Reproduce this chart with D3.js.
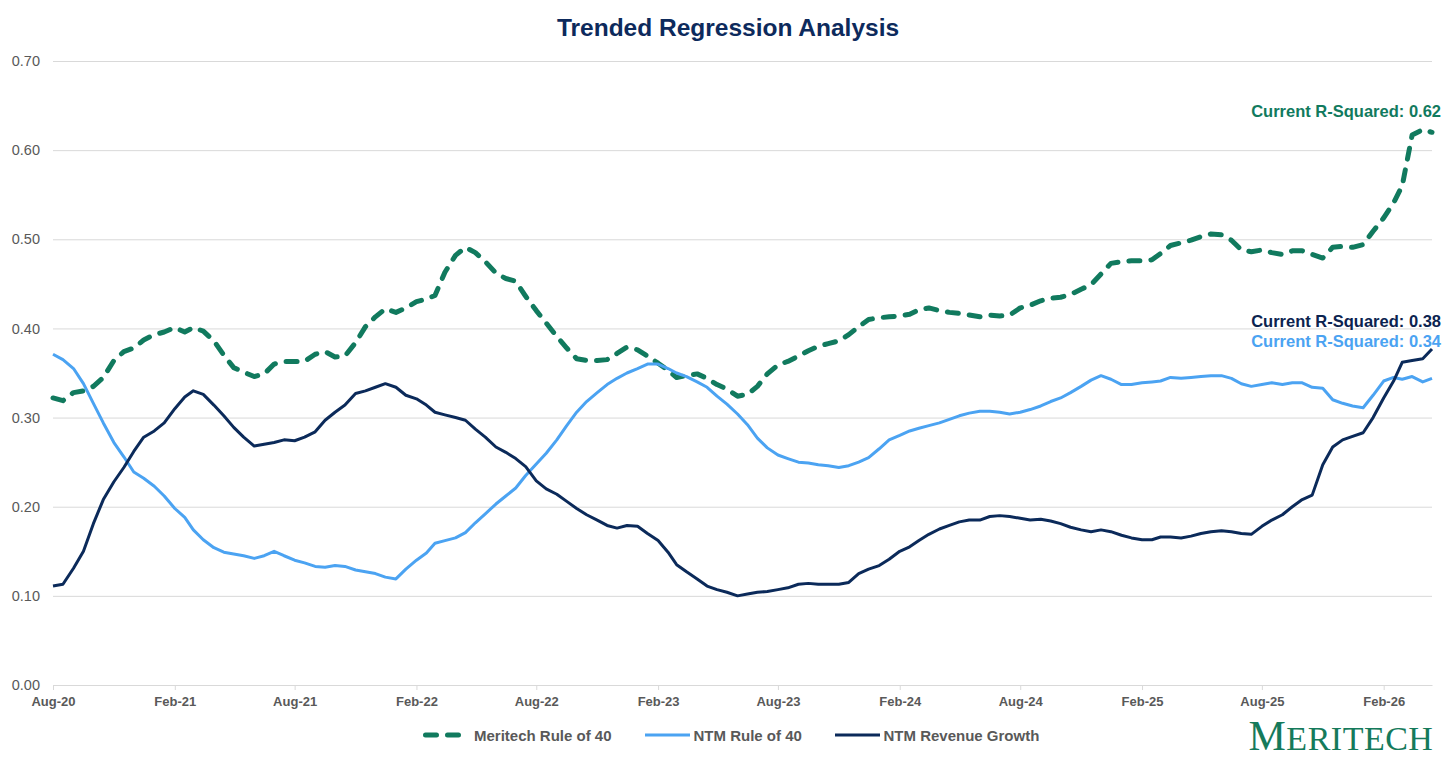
<!DOCTYPE html>
<html>
<head>
<meta charset="utf-8">
<script src="https://cdn.jsdelivr.net/npm/d3@7"></script>
<style>
  body { margin: 0; background: #fff; }
  text { font-family: Arial, "Liberation Sans", sans-serif; }
</style>
</head>
<body>
<script>
var dates = [
  "2020-08-01","2020-08-16","2020-09-01","2020-09-16","2020-10-01","2020-10-16","2020-11-01","2020-11-16","2020-12-01","2020-12-16",
  "2021-01-01","2021-01-16","2021-02-01","2021-02-16","2021-03-01","2021-03-16","2021-04-01","2021-04-16","2021-05-01","2021-05-16","2021-06-01","2021-06-16",
  "2021-07-01","2021-07-16","2021-08-01","2021-08-16","2021-09-01","2021-09-16","2021-10-01","2021-10-16","2021-11-01","2021-11-16","2021-12-01","2021-12-16",
  "2022-01-01","2022-01-16","2022-02-01","2022-02-16","2022-03-01","2022-03-16","2022-04-01","2022-04-16","2022-05-01","2022-05-16","2022-06-01","2022-06-16",
  "2022-07-01","2022-07-16","2022-08-01","2022-08-16","2022-09-01","2022-09-16","2022-10-01","2022-10-16","2022-11-01","2022-11-16","2022-12-01","2022-12-16",
  "2023-01-01","2023-01-16","2023-02-01","2023-02-16","2023-03-01","2023-03-16","2023-04-01","2023-04-16","2023-05-01","2023-05-16","2023-06-01","2023-06-16",
  "2023-07-01","2023-07-16","2023-08-01","2023-08-16","2023-09-01","2023-09-16","2023-10-01","2023-10-16","2023-11-01","2023-11-16","2023-12-01","2023-12-16",
  "2024-01-01","2024-01-16","2024-02-01","2024-02-16","2024-03-01","2024-03-16","2024-04-01","2024-04-16","2024-05-01","2024-05-16","2024-06-01","2024-06-16",
  "2024-07-01","2024-07-16","2024-08-01","2024-08-16","2024-09-01","2024-09-16","2024-10-01","2024-10-16","2024-11-01","2024-11-16","2024-12-01","2024-12-16",
  "2025-01-01","2025-01-16","2025-02-01","2025-02-16","2025-03-01","2025-03-16","2025-04-01","2025-04-16","2025-05-01","2025-05-16","2025-06-01","2025-06-16",
  "2025-07-01","2025-07-16","2025-08-01","2025-08-16","2025-09-01","2025-09-16","2025-10-01","2025-10-16","2025-11-01","2025-11-16","2025-12-01","2025-12-16",
  "2026-01-01","2026-01-16","2026-02-01","2026-02-16","2026-03-01","2026-03-16","2026-04-01","2026-04-15"
];

var meritechRule40 = [
  0.322,0.319,0.328,0.330,0.335,0.345,0.364,0.374,0.378,0.387,
  0.393,0.396,0.401,0.396,0.401,0.397,0.386,0.370,0.356,0.351,
  0.346,0.349,0.360,0.363,0.363,0.363,0.371,0.374,0.368,0.369,
  0.384,0.402,0.413,0.422,0.418,0.423,0.430,0.433,0.437,0.463,
  0.482,0.491,0.485,0.475,0.462,0.456,0.453,0.436,0.420,0.406,
  0.391,0.378,0.366,0.364,0.364,0.365,0.372,0.379,0.376,0.369,
  0.361,0.353,0.345,0.347,0.349,0.344,0.337,0.332,0.324,0.326,
  0.335,0.349,0.359,0.363,0.369,0.375,0.380,0.383,0.386,0.393,
  0.402,0.410,0.412,0.413,0.414,0.416,0.421,0.423,0.420,0.418,
  0.417,0.415,0.413,0.415,0.414,0.415,0.423,0.426,0.431,0.434,
  0.435,0.438,0.444,0.449,0.461,0.473,0.475,0.476,0.476,0.477,
  0.484,0.493,0.496,0.499,0.503,0.506,0.505,0.499,0.488,0.486,
  0.488,0.485,0.483,0.487,0.487,0.483,0.479,0.491,0.492,0.491,
  0.494,0.509,0.524,0.541,0.560,0.617,0.623,0.620
];

var ntmRule40 = [
  0.371,0.365,0.355,0.338,0.316,0.294,0.272,0.256,0.239,0.232,
  0.223,0.212,0.198,0.188,0.174,0.163,0.154,0.149,0.147,0.145,
  0.142,0.145,0.150,0.145,0.140,0.137,0.133,0.132,0.134,0.133,
  0.129,0.127,0.125,0.121,0.119,0.130,0.140,0.148,0.159,0.162,
  0.165,0.171,0.182,0.192,0.203,0.212,0.221,0.235,0.248,0.260,
  0.275,0.291,0.306,0.318,0.328,0.337,0.344,0.350,0.355,0.360,
  0.360,0.355,0.350,0.346,0.340,0.334,0.324,0.315,0.304,0.292,
  0.277,0.266,0.258,0.254,0.250,0.249,0.247,0.246,0.244,0.246,
  0.250,0.255,0.265,0.275,0.280,0.285,0.288,0.291,0.294,0.298,
  0.302,0.305,0.307,0.307,0.306,0.304,0.306,0.309,0.313,0.318,
  0.322,0.328,0.335,0.342,0.347,0.343,0.337,0.337,0.339,0.340,
  0.341,0.345,0.344,0.345,0.346,0.347,0.347,0.344,0.338,0.335,
  0.337,0.339,0.337,0.339,0.339,0.334,0.333,0.320,0.316,0.313,
  0.311,0.325,0.341,0.345,0.343,0.346,0.340,0.344
];

var ntmRevenueGrowth = [
  0.111,0.113,0.131,0.150,0.181,0.208,0.228,0.244,0.262,0.278,
  0.285,0.294,0.310,0.323,0.330,0.326,0.314,0.302,0.289,0.278,
  0.268,0.270,0.272,0.275,0.274,0.278,0.284,0.297,0.306,0.314,
  0.327,0.330,0.334,0.338,0.334,0.325,0.321,0.314,0.306,0.303,
  0.300,0.297,0.287,0.278,0.267,0.261,0.254,0.245,0.229,0.220,
  0.214,0.206,0.198,0.191,0.185,0.179,0.176,0.179,0.178,0.170,
  0.162,0.149,0.135,0.127,0.119,0.111,0.107,0.104,0.100,0.102,
  0.104,0.105,0.107,0.109,0.113,0.114,0.113,0.113,0.113,0.115,
  0.125,0.130,0.134,0.141,0.150,0.155,0.162,0.169,0.175,0.179,
  0.183,0.185,0.185,0.189,0.190,0.189,0.187,0.185,0.186,0.184,
  0.181,0.177,0.174,0.172,0.174,0.172,0.168,0.165,0.163,0.163,
  0.166,0.166,0.165,0.167,0.170,0.172,0.173,0.172,0.170,0.169,
  0.178,0.185,0.191,0.200,0.208,0.213,0.247,0.267,0.275,0.279,
  0.283,0.300,0.322,0.341,0.362,0.364,0.366,0.377
];

var yTicks = [0, 0.1, 0.2, 0.3, 0.4, 0.5, 0.6, 0.7];
var xTickDates = ["2020-08-01","2021-02-01","2021-08-01","2022-02-01","2022-08-01","2023-02-01",
                  "2023-08-01","2024-02-01","2024-08-01","2025-02-01","2025-08-01","2026-02-01"];

var seriesNames = ["Meritech Rule of 40", "NTM Rule of 40", "NTM Revenue Growth"];
var currentRSquared = ["0.62", "0.34", "0.38"];

var chart = {
  "width": 1456,
  "height": 759,
  "left": 53,
  "right": 1432,
  "top": 61,
  "bottom": 685
};

var green = "#117a5e",
    lightBlue = "#4ba3f2",
    navy = "#0b2a5a",
    grey = "#595959",
    gridGrey = "#d9d9d9";

var parse = d3.timeParse("%Y-%m-%d");
var parsedDates = dates.map(parse);

var x = d3.scaleTime()
          .domain([parsedDates[0], parsedDates[parsedDates.length - 1]])
          .range([chart.left, chart.right]);

var y = d3.scaleLinear()
          .domain([0, 0.7])
          .range([chart.bottom, chart.top]);

var svg = d3.select("body")
            .append("svg")
            .attr("width", chart.width)
            .attr("height", chart.height);

svg.append("rect")
   .attr("width", chart.width)
   .attr("height", chart.height)
   .attr("fill", "#fff");

svg.append("text")
   .attr("x", 728)
   .attr("y", 36)
   .attr("text-anchor", "middle")
   .attr("font-size", 24.5)
   .attr("font-weight", "bold")
   .attr("fill", "#0d2a5c")
   .text("Trended Regression Analysis");

// gridlines + y labels
var yAxis = d3.axisLeft(y)
              .tickValues(yTicks)
              .tickFormat(d3.format(".2f"))
              .tickSize(-(chart.right - chart.left))
              .tickPadding(13);

var yg = svg.append("g")
            .attr("transform", "translate(" + chart.left + ",0)")
            .call(yAxis);
yg.select(".domain").remove();
yg.selectAll("line").attr("stroke", gridGrey).attr("stroke-width", 1);
yg.selectAll("text")
  .attr("fill", grey)
  .attr("font-size", 14.5)
  .style("font-family", "Arial, 'Liberation Sans', sans-serif");

// x axis
var xAxis = d3.axisBottom(x)
              .tickValues(xTickDates.map(parse))
              .tickFormat(d3.timeFormat("%b-%y"))
              .tickSize(5)
              .tickSizeOuter(0)
              .tickPadding(7);

var xg = svg.append("g")
            .attr("transform", "translate(0," + chart.bottom + ")")
            .call(xAxis);
xg.select(".domain").attr("stroke", gridGrey);
xg.selectAll("line").attr("stroke", gridGrey);
xg.selectAll("text")
  .attr("fill", grey)
  .attr("font-size", 13)
  .attr("font-weight", "bold")
  .style("font-family", "Arial, 'Liberation Sans', sans-serif");

var line = d3.line()
             .x(function(d, i) { return x(parsedDates[i]); })
             .y(function(d) { return y(d); });

svg.append("path")
   .datum(meritechRule40)
   .attr("d", line)
   .attr("fill", "none")
   .attr("stroke", green)
   .attr("stroke-width", 5)
   .attr("stroke-linecap", "round")
   .attr("stroke-linejoin", "round")
   .attr("stroke-dasharray", "11,11");

svg.append("path")
   .datum(ntmRule40)
   .attr("d", line)
   .attr("fill", "none")
   .attr("stroke", lightBlue)
   .attr("stroke-width", 3)
   .attr("stroke-linejoin", "round");

svg.append("path")
   .datum(ntmRevenueGrowth)
   .attr("d", line)
   .attr("fill", "none")
   .attr("stroke", navy)
   .attr("stroke-width", 3)
   .attr("stroke-linejoin", "round");

// current r-squared notes
var notes = [
  { text: "Current R-Squared: " + currentRSquared[0], y: 116.5, color: green },
  { text: "Current R-Squared: " + currentRSquared[2], y: 327, color: "#0b2350" },
  { text: "Current R-Squared: " + currentRSquared[1], y: 346.5, color: lightBlue }
];

svg.selectAll("text.note")
   .data(notes)
   .enter()
   .append("text")
   .attr("class", "note")
   .attr("x", 1441)
   .attr("y", function(d) { return d.y; })
   .attr("text-anchor", "end")
   .attr("font-size", 16.5)
   .attr("font-weight", "bold")
   .attr("fill", function(d) { return d.color; })
   .text(function(d) { return d.text; });

// legend
var legend = [
  { name: seriesNames[0], x: 423, color: green, width: 5, dash: "11,11" },
  { name: seriesNames[1], x: 645, color: lightBlue, width: 3, dash: null },
  { name: seriesNames[2], x: 835, color: navy, width: 3, dash: null }
];

var item = svg.selectAll("g.legend")
              .data(legend)
              .enter()
              .append("g")
              .attr("class", "legend")
              .attr("transform", function(d) { return "translate(" + d.x + ",735)"; });

item.append("line")
    .attr("x1", function(d) { return d.dash ? 2.5 : 0; })
    .attr("x2", function(d) { return d.dash ? 38.5 : 45; })
    .attr("stroke", function(d) { return d.color; })
    .attr("stroke-width", function(d) { return d.width; })
    .attr("stroke-linecap", function(d) { return d.dash ? "round" : "butt"; })
    .attr("stroke-dasharray", function(d) { return d.dash; });

item.append("text")
    .attr("x", function(d) { return d.dash ? 51 : 48.5; })
    .attr("y", 5.5)
    .attr("font-size", 15)
    .attr("font-weight", "bold")
    .attr("fill", grey)
    .text(function(d) { return d.name; });

// logo
var logo = svg.append("text")
              .attr("x", 1248.5)
              .attr("y", 750)
              .attr("fill", "#157a5b")
              .attr("letter-spacing", 0.5)
              .style("font-family", "'Liberation Serif', 'DejaVu Serif', serif");
logo.append("tspan").attr("font-size", 42).text("M");
logo.append("tspan").attr("font-size", 34).text("ERITECH");
</script>
</body>
</html>
